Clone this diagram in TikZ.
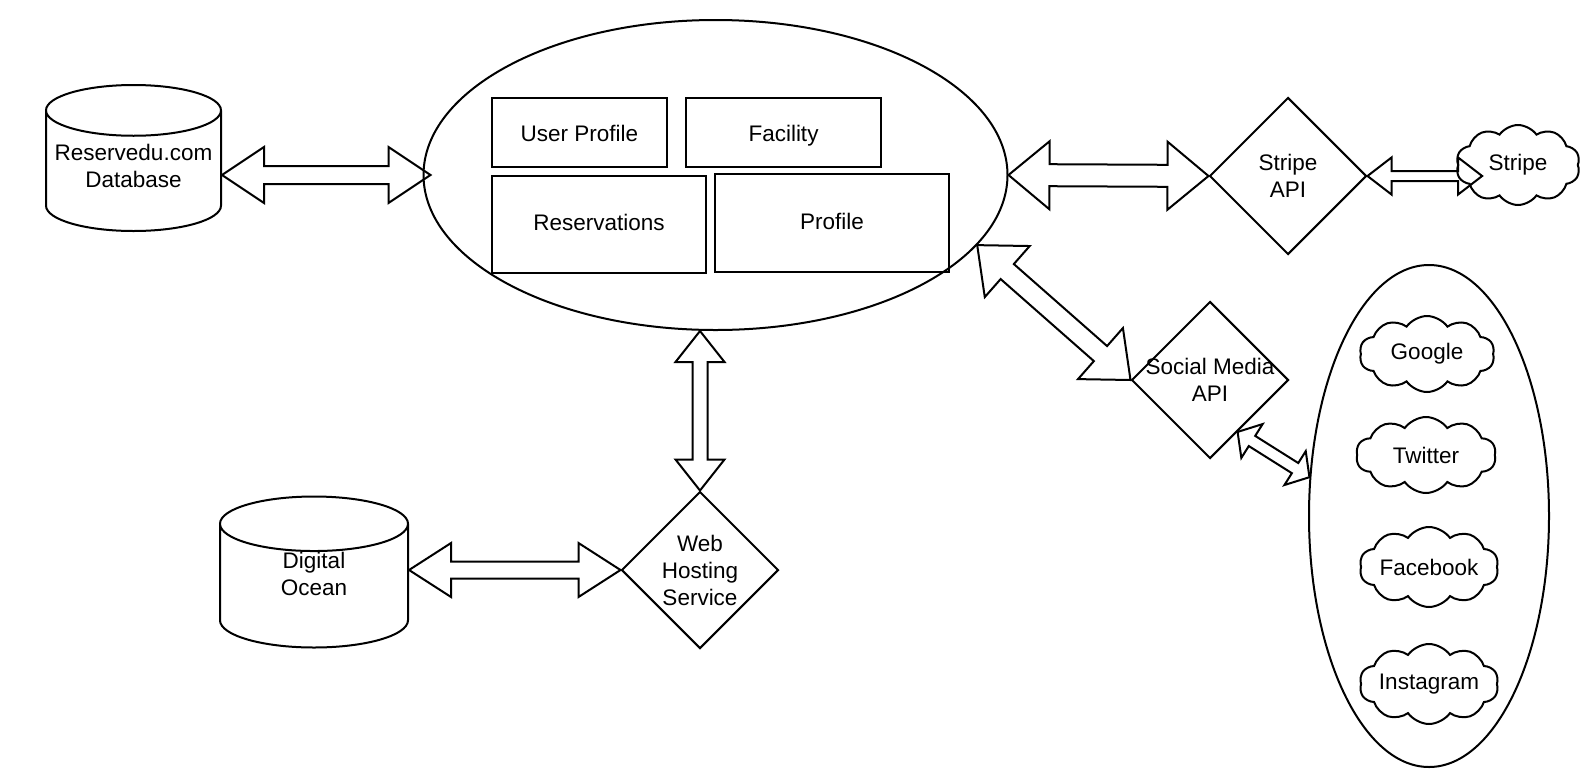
\documentclass[tikz,border=0pt]{standalone}
\usepackage{fontspec}
\setmainfont{Liberation Sans}
\usetikzlibrary{shapes.geometric,shapes.symbols,calc}

\tikzset{
  outline/.style={draw, line width=2pt},
  modbox/.style={outline, rectangle, inner sep=0pt, text height=17pt, text depth=5pt},
  dbstore/.style={outline, cylinder, shape border rotate=90, aspect=0.29, inner sep=0pt, anchor=shape center},
  apinode/.style={outline, diamond, minimum width=157pt, minimum height=157pt, inner sep=0pt, align=center},
  webcloud/.style={outline, cloud, cloud puffs=10, cloud puff arc=110, cloud ignores aspect, inner xsep=-20pt, inner ysep=-6pt},
  blockline/.style={line width=2pt, line join=miter},
}

\newcommand{\dblarrow}[5]{%
  \coordinate (ha) at ($(#1)!#3!(#2)$);
  \coordinate (hb) at ($(#2)!#3!(#1)$);
  \draw[blockline] (#1) -- ($(ha)!#4!90:(#2)$) -- ($(ha)!#5!90:(#2)$)
    -- ($(hb)!#5!-90:(#1)$) -- ($(hb)!#4!-90:(#1)$) -- (#2)
    -- ($(hb)!#4!90:(#1)$) -- ($(hb)!#5!90:(#1)$)
    -- ($(ha)!#5!-90:(#2)$) -- ($(ha)!#4!-90:(#2)$) -- cycle;
}

\begin{document}
\begin{tikzpicture}[x=1pt, y=-1pt, font=\fontsize{22.5pt}{27pt}\selectfont]
  \useasboundingbox (0,0) rectangle (1588,772);

  \node[outline, ellipse, minimum width=584pt, minimum height=310pt, inner sep=0pt] (core) at (715.5,175) {};
  \node[modbox, text height=22pt, minimum width=175pt, minimum height=69pt] (userprof) at (579.5,132.5) {User Profile};
  \node[modbox, text height=22pt, minimum width=195pt, minimum height=69pt] (facility) at (783.5,132.5) {Facility};
  \node[modbox, minimum width=214pt, minimum height=97pt] (reserv) at (599,224.5) {Reservations};
  \node[modbox, minimum width=234pt, minimum height=98pt] (profile) at (832,223) {Profile};

  \node[dbstore, text width=175pt, minimum height=146pt] (db) at (133.5,158) {};
  \node[align=center] (dblabel) at ($(db.shape center)+(0,8)$) {Reservedu.com\\Database};
  \node[dbstore, text width=188pt, minimum height=151pt] (ocean) at (314,572) {};
  \node[align=center] (oceanlabel) at ($(ocean.shape center)+(0,2)$) {Digital\\Ocean};

  \node[apinode] (web) at (700,570) {Web\\Hosting\\Service};
  \node[apinode] (stripeapi) at (1288,176) {Stripe\\API};
  \node[apinode, inner xsep=-12pt] (social) at (1210,380) {Social Media\\API};

  \node[webcloud, minimum width=124pt, minimum height=80pt] (stripe) at (1518,165) {Stripe};

  \node[outline, ellipse, minimum width=240pt, minimum height=502pt, inner sep=0pt] (media) at (1429,516) {};
  \node[webcloud, minimum width=135pt, minimum height=76pt] (google) at (1427,354) {Google};
  \node[webcloud, minimum width=140pt, minimum height=76pt] (twitter) at (1426,455) {Twitter};
  \node[webcloud, minimum width=139pt, minimum height=80pt] (facebook) at (1429,567) {Facebook};
  \node[webcloud, minimum width=139pt, minimum height=80pt] (instagram) at (1429,684) {Instagram};

  \coordinate (dbport) at (db.east |- core.west);
  \coordinate (coreW) at ([xshift=8pt]core.west);
  \coordinate (coreS) at (web.north |- core.south);
  \coordinate (oceanport) at (ocean.east |- web.west);
  \coordinate (stripein) at ([xshift=25pt]stripe.west |- stripeapi.east);

  \dblarrow{dbport}{coreW}{42pt}{28pt}{9pt}
  \dblarrow{coreS}{web.north}{31pt}{24.5pt}{7.5pt}
  \dblarrow{oceanport}{web.west}{42pt}{27pt}{8.5pt}
  \dblarrow{core.east}{stripeapi.west}{41pt}{34pt}{11pt}
  \dblarrow{stripeapi.east}{stripein}{24pt}{18.5pt}{5pt}
  \dblarrow{core.-15}{social.west}{40pt}{34pt}{10pt}
  \dblarrow{social.-62}{media.162}{17pt}{20pt}{6pt}
\end{tikzpicture}
\end{document}
